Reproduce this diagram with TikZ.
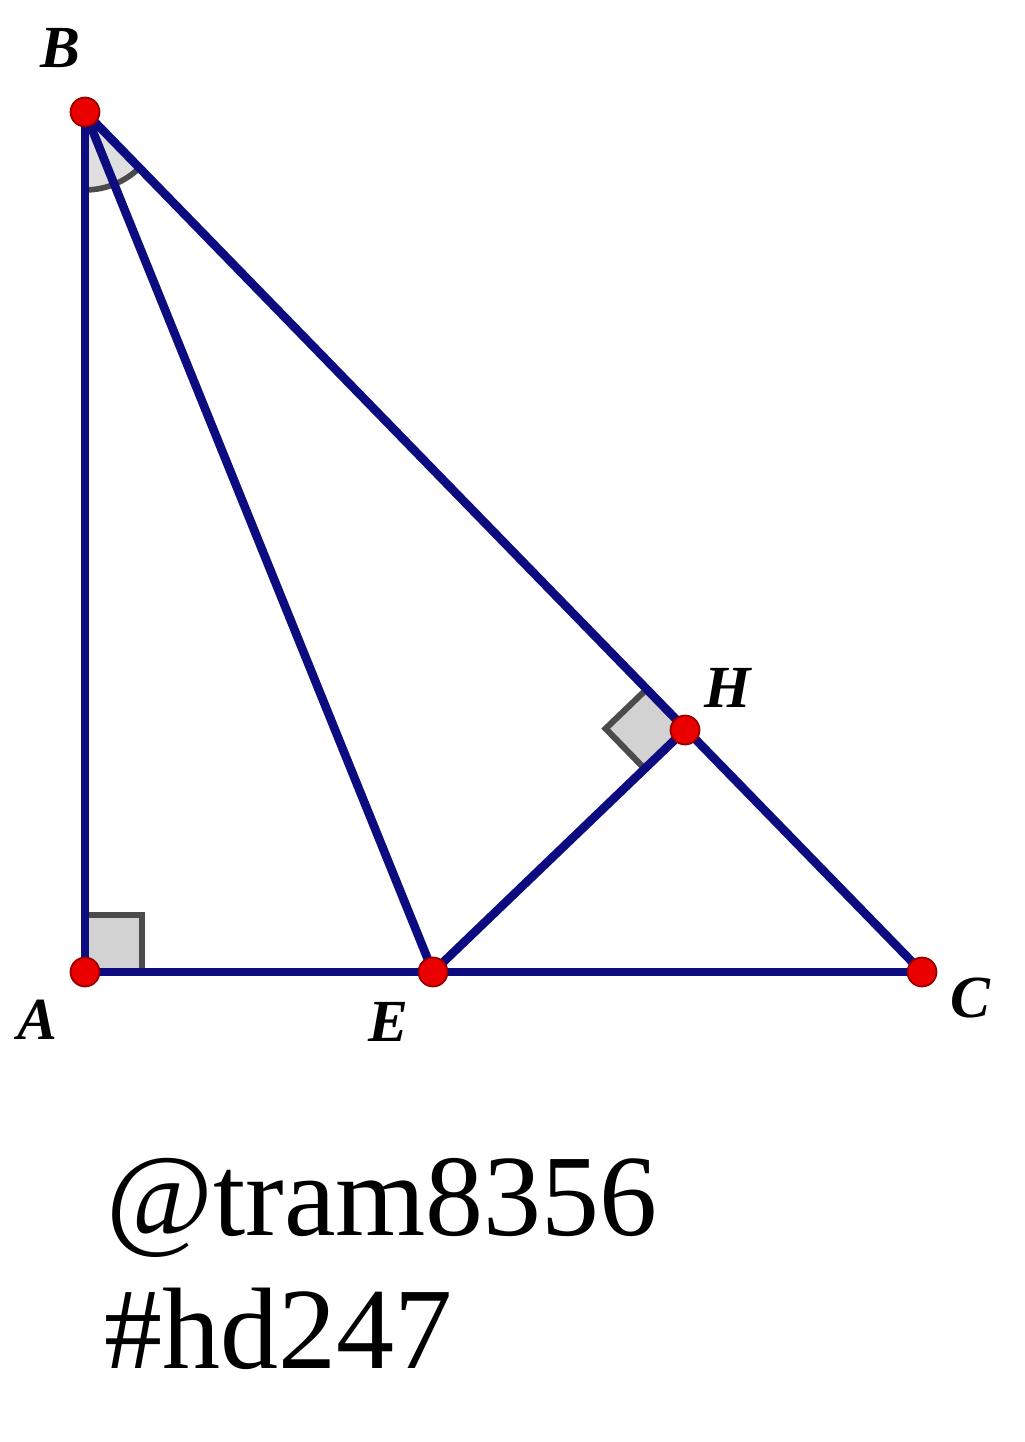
\documentclass[tikz,border=0pt]{standalone}
\usepackage{fontspec}
\setmainfont{Liberation Serif}
\usetikzlibrary{calc}
\definecolor{seg}{RGB}{12,12,128}
\definecolor{ptred}{RGB}{235,0,0}
\definecolor{ptedge}{RGB}{150,0,0}
\definecolor{markfill}{RGB}{210,210,210}
\definecolor{markline}{RGB}{75,75,75}
\begin{document}
\begin{tikzpicture}[x=0.02cm,y=-0.02cm,
  segline/.style={draw=seg,line width=4.9pt,line cap=round},
  ptdot/.style={circle,fill=ptred,draw=ptedge,line width=1pt,inner sep=0pt,minimum size=0.58cm},
  lbl/.style={font=\fontsize{34}{40}\selectfont\bfseries\itshape,inner sep=0pt},
  anglemark/.style={fill=markfill,draw=markline,line width=3.5pt},
  note/.style={font=\fontsize{66}{70}\selectfont,inner sep=0pt,anchor=base west}]
\useasboundingbox (0,0) rectangle (1024,1442);
\coordinate (B) at (85,112);
\coordinate (A) at (85,972);
\coordinate (E) at (433,972);
\coordinate (C) at (922,972);
\coordinate (H) at (685,730);
% angle marks
\coordinate (B1) at ($(B)!1.56cm!(A)$);
\fill[markfill!70!white] (B) -- (B1) arc[start angle=270,end angle=314.2,radius=1.56cm] -- cycle;
\draw[markline,line width=3.2pt] (B1) arc[start angle=270,end angle=314.2,radius=1.56cm];
\draw[anglemark] (A) -- (85,915) -- (142,915) -- (142,972) -- cycle;
\coordinate (H1) at ($(H)!1.12cm!(B)$);
\coordinate (H2) at ($(H)!1.12cm!(E)$);
\draw[anglemark] (H) -- (H1) -- ($(H1)+(H2)-(H)$) -- (H2) -- cycle;
% segments
\draw[segline] (B) -- (A);
\draw[segline] (A) -- (C);
\draw[segline] (B) -- (C);
\draw[segline] (B) -- (E);
\draw[segline] (E) -- (H);
% points
\node[ptdot] (dB) at (B) {};
\node[ptdot] (dA) at (A) {};
\node[ptdot] (dE) at (E) {};
\node[ptdot] (dC) at (C) {};
\node[ptdot] (dH) at (H) {};
% labels
\node[lbl] (lB) at (60,48) {B};
\node[lbl] (lH) at (728,688) {H};
\node[lbl] (lA) at (37,1020) {A};
\node[lbl] (lE) at (388,1022) {E};
\node[lbl] (lC) at (970,998) {C};
\node[note] (t1) at (106,1235) {@tram8356};
\node[note] (t2) at (104,1368) {\#hd247};
\end{tikzpicture}
\end{document}
